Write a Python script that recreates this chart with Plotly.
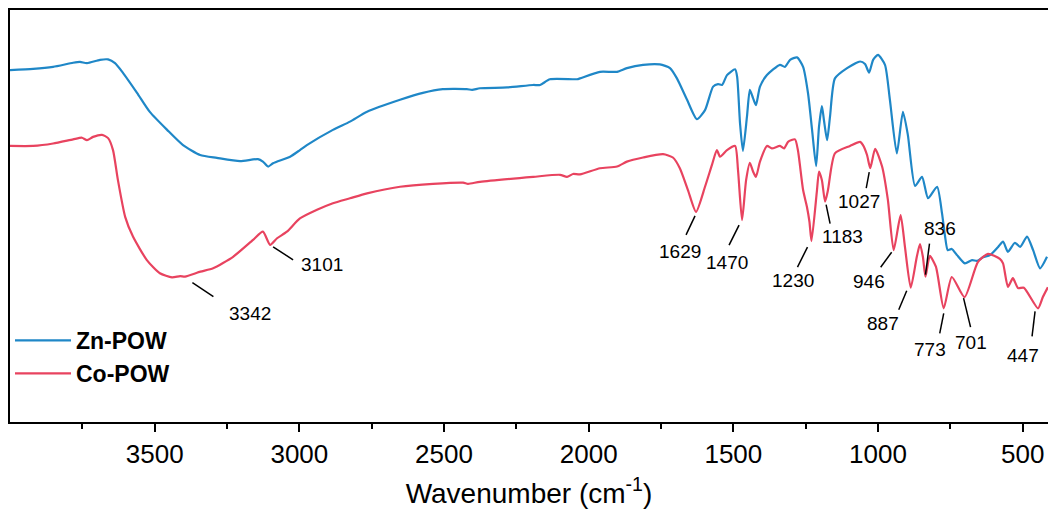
import numpy as np
import plotly.graph_objects as go

# ---- spectra (wavenumber in cm-1, transmittance in arbitrary % units) ----
zn_wavenumber = [4000, 3920, 3851, 3782, 3758, 3734, 3689, 3661, 3637, 3609, 3561, 3516, 3457, 3402,
                 3343, 3285, 3205, 3143, 3126, 3108, 3091, 3032, 2998, 2974, 2884, 2825, 2766, 2652,
                 2573, 2504, 2421, 2403, 2376, 2282, 2192, 2168, 2134, 2040, 2030, 1961, 1902, 1868,
                 1812, 1754, 1719, 1695, 1660, 1626, 1598, 1570, 1553, 1539, 1522, 1494, 1487, 1477,
                 1467, 1453, 1443, 1432, 1422, 1408, 1384, 1339, 1322, 1304, 1280, 1259, 1242, 1228,
                 1214, 1204, 1194, 1187, 1176, 1166, 1149, 1107, 1062, 1045, 1031, 1017, 1000, 976,
                 959, 935, 914, 897, 872, 848, 827, 796, 779, 769, 759, 745, 727, 700, 675, 658, 637,
                 613, 585, 568, 551, 527, 509, 485, 464, 440, 416]
zn_transmittance = [85.4, 85.7, 86.2, 87.2, 87.4, 87.1, 87.9, 88.0, 87.1, 84.7, 79.9, 75.2, 70.9, 67.2,
                    64.8, 64.1, 63.3, 63.8, 63.2, 62.0, 62.8, 64.4, 66.0, 67.2, 70.9, 72.9, 75.3, 78.2,
                    79.9, 80.8, 80.8, 80.6, 81.0, 81.2, 81.8, 81.8, 83.2, 83.2, 83.4, 85.0, 85.0, 85.9,
                    86.7, 86.8, 85.9, 83.4, 78.2, 73.5, 75.7, 81.4, 82.0, 81.8, 84.2, 85.6, 83.8, 72.5,
                    65.8, 74.1, 80.6, 78.6, 76.9, 81.4, 84.2, 86.7, 86.2, 87.9, 88.5, 86.2, 79.8, 70.9,
                    62.1, 71.7, 76.7, 73.3, 68.4, 74.1, 83.4, 85.9, 87.5, 86.9, 84.8, 87.9, 89.1, 86.7,
                    78.2, 65.2, 75.3, 69.7, 57.3, 59.5, 54.3, 57.1, 50.7, 45.4, 41.7, 42.0, 40.5, 38.5,
                    39.3, 39.1, 40.0, 40.5, 42.5, 43.8, 41.3, 43.5, 42.5, 45.0, 41.7, 37.3, 40.1]

co_wavenumber = [4000, 3920, 3851, 3782, 3751, 3734, 3713, 3682, 3661, 3644, 3627, 3602, 3575, 3527,
                 3482, 3440, 3412, 3395, 3342, 3298, 3229, 3160, 3126, 3101, 3077, 3043, 2998, 2939,
                 2884, 2825, 2766, 2652, 2538, 2434, 2417, 2376, 2192, 2099, 2075, 2054, 2030, 1961,
                 1902, 1868, 1812, 1743, 1709, 1685, 1657, 1629, 1598, 1574, 1557, 1546, 1522, 1494,
                 1484, 1470, 1456, 1443, 1432, 1422, 1408, 1384, 1367, 1339, 1325, 1311, 1287, 1277,
                 1259, 1246, 1237, 1230, 1211, 1204, 1194, 1183, 1173, 1149, 1097, 1062, 1052, 1038,
                 1027, 1010, 986, 966, 946, 922, 907, 887, 866, 855, 845, 836, 821, 800, 773, 745,
                 701, 655, 620, 579, 568, 551, 534, 516, 496, 447, 430, 413]
co_transmittance = [67.0, 67.0, 67.6, 68.6, 69.0, 68.4, 69.2, 69.7, 68.9, 66.0, 58.7, 49.8, 45.0, 39.3,
                    36.1, 35.1, 35.4, 35.3, 36.5, 37.3, 40.1, 44.2, 46.2, 43.0, 44.6, 46.2, 49.4, 51.5,
                    53.1, 54.3, 55.5, 57.1, 57.8, 58.1, 57.8, 58.3, 59.5, 60.0, 59.5, 60.2, 60.1, 61.6,
                    62.0, 63.2, 64.2, 65.0, 64.2, 61.6, 56.3, 51.0, 57.1, 62.4, 66.0, 64.4, 66.0, 67.0,
                    61.2, 49.0, 58.7, 62.9, 60.8, 59.5, 63.2, 67.0, 66.4, 67.0, 66.4, 68.0, 68.6, 66.0,
                    56.3, 52.3, 48.6, 43.9, 56.3, 60.8, 58.7, 53.5, 56.3, 65.2, 67.0, 68.0, 67.2, 64.8,
                    61.6, 66.3, 62.0, 53.9, 41.7, 50.2, 42.5, 32.6, 40.1, 43.2, 40.1, 35.3, 40.3, 37.7,
                    27.6, 35.2, 30.3, 38.8, 40.8, 39.6, 38.5, 32.8, 34.9, 32.5, 32.6, 27.6, 30.4, 32.7]

# band positions marked on the Co-POW spectrum
peak_labels = [3342, 3101, 1629, 1470, 1230, 1183, 1027, 946, 887, 836, 773, 701, 447]

x_ticks = [500, 1000, 1500, 2000, 2500, 3000, 3500]
series_names = ["Zn-POW", "Co-POW"]

# ---- styling ----
BLUE = "#1f87c7"
RED = "#e8435f"
FONT = "Liberation Sans, Arial, sans-serif"

# leader-line / label placement in pixels relative to each band:
# (line start dx, dy, line end dx, dy, label dx, dy), y measured downward
label_offsets = {
    3342: (-8, 11, 13, 25, 50, 42),
    3101: (3, 2, 23, 15, 52, 20),
    1629: (-1, 4, -10, 23, -16, 40),
    1470: (-3, 5, -13, 25, -15, 42),
    1230: (-4, 6, -14, 26, -18, 39),
    1183: (1, 3, 5, 22, 17, 35),
    1027: (-1, 4, -4, 20, -11, 33),
    946: (-2, 2, -13, 17, -25, 31),
    887: (-4, 3, -12, 22, -28, 36),
    836: (0, -2, 4, -33, 15, -48),
    773: (0, 5, -4, 25, -14, 41),
    701: (-1, 1, 6, 30, 6, 45),
    447: (-3, 3, -6, 28, -15, 47),
}

fig = go.Figure()
for name, wn, tr, color in [
    (series_names[0], zn_wavenumber, zn_transmittance, BLUE),
    (series_names[1], co_wavenumber, co_transmittance, RED),
]:
    fig.add_trace(go.Scatter(
        x=wn, y=tr, name=name, mode="lines",
        line=dict(color=color, width=2.2, shape="spline", smoothing=0.6),
    ))

# band markers: leader line + value
co_wn_asc = np.array(co_wavenumber[::-1], dtype=float)
co_tr_asc = np.array(co_transmittance[::-1], dtype=float)
shapes = []
annotations = []
for wn in peak_labels:
    t = float(np.interp(wn, co_wn_asc, co_tr_asc))
    dx0, dy0, dx1, dy1, tx, ty = label_offsets[wn]
    shapes.append(dict(
        type="line", xref="x", yref="y", xsizemode="pixel", ysizemode="pixel",
        xanchor=wn, yanchor=t, x0=dx0, x1=dx1, y0=-dy0, y1=-dy1,
        line=dict(color="black", width=1.5),
    ))
    annotations.append(dict(
        x=wn, y=t, xref="x", yref="y", text=str(wn), showarrow=False,
        xshift=tx, yshift=-ty, font=dict(family=FONT, size=19, color="black"),
    ))

fig.update_layout(
    width=1048, height=516,
    margin=dict(l=10, r=0, t=10, b=94),
    paper_bgcolor="white", plot_bgcolor="white",
    font=dict(family=FONT, color="black"),
    shapes=shapes, annotations=annotations,
    showlegend=True,
    legend=dict(
        x=0.0, y=0.25, xanchor="left", yanchor="top",
        bgcolor="rgba(0,0,0,0)", borderwidth=0,
        font=dict(family=FONT, size=23, color="black", weight="bold"),
        itemwidth=56, tracegroupgap=0,
    ),
    xaxis=dict(
        range=[4000, 412.6], tickvals=x_ticks, ticktext=[str(v) for v in x_ticks],
        ticks="outside", ticklen=8, tickwidth=2, tickcolor="black",
        showline=True, linewidth=2, linecolor="black", mirror=True,
        showgrid=False, zeroline=False,
        tickfont=dict(family=FONT, size=26, color="black"),
        minor=dict(ticks="outside", ticklen=5, tickwidth=2, tickcolor="black",
                   tickvals=[v + 250 for v in x_ticks]),
        title=dict(text="Wavenumber (cm<sup>-1</sup>)",
                   font=dict(family=FONT, size=28, color="black"), standoff=15),
    ),
    yaxis=dict(
        range=[0, 100], showline=True, linewidth=2, linecolor="black", mirror=False,
        showticklabels=False, ticks="", showgrid=False, zeroline=False,
    ),
)

fig.write_html("out.html")
